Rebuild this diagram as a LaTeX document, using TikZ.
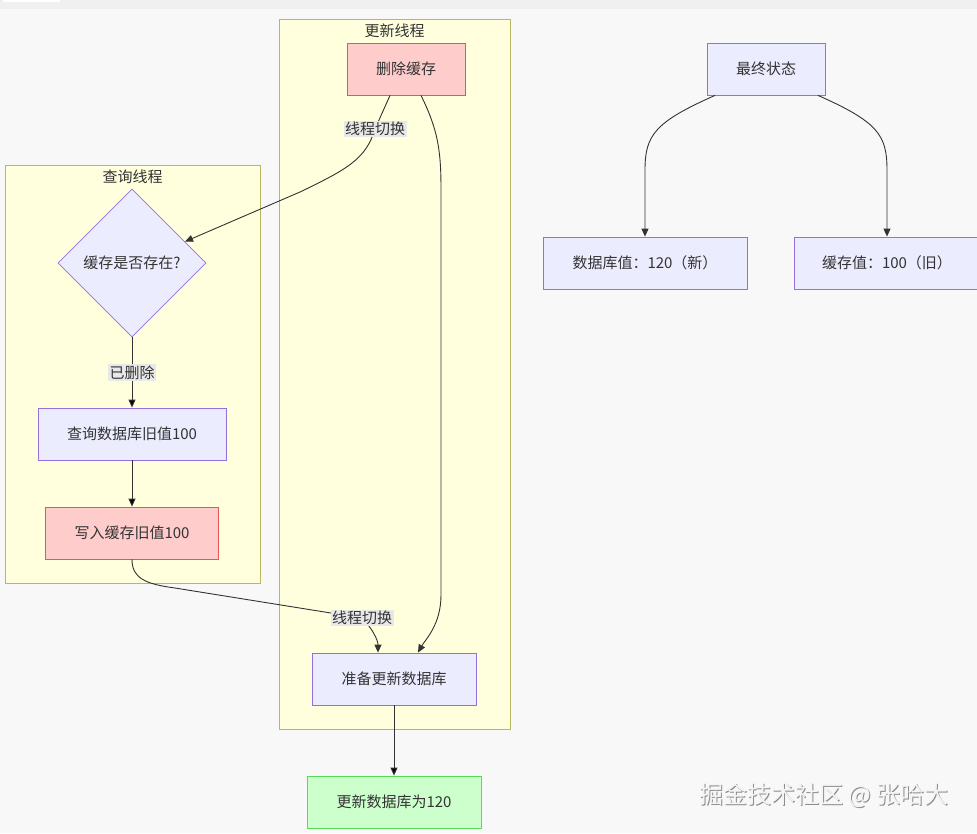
\documentclass[tikz,border=0pt]{standalone}
\usepackage{fontspec}
\setmainfont{Noto Sans CJK SC}
\usetikzlibrary{positioning,shapes.geometric,arrows.meta}
\definecolor{bgcol}{HTML}{F8F8F8}
\definecolor{bandcol}{HTML}{F0F0F0}
\definecolor{clusterfill}{HTML}{FFFFDE}
\definecolor{clusterline}{HTML}{B8B860}
\definecolor{nodefill}{HTML}{ECECFF}
\definecolor{nodeline}{HTML}{9370DB}
\definecolor{redfill}{HTML}{FFCCCC}
\definecolor{redline}{HTML}{E85555}
\definecolor{greenfill}{HTML}{CCFFCC}
\definecolor{greenline}{HTML}{55DD55}
\definecolor{lblfill}{HTML}{E8E8E8}
\definecolor{linegray}{HTML}{333333}
\begin{document}
\begin{tikzpicture}[x=1pt,y=-1pt,font=\fontsize{15}{18}\selectfont,>={Triangle[length=8pt,width=7pt]}]
        \tikzstyle{box}=[rectangle,draw=nodeline,fill=nodefill,text=linegray,line width=0.8pt,minimum width=118,minimum height=52,inner sep=0pt]
        \tikzstyle{warnbox}=[box,draw=redline,fill=redfill]
        \tikzstyle{okbox}=[box,draw=greenline,fill=greenfill]
        \tikzstyle{decide}=[diamond,draw=nodeline,fill=nodefill,text=linegray,line width=0.8pt,minimum width=148,minimum height=148,inner sep=0pt]
        \tikzstyle{cluster}=[rectangle,draw=clusterline,fill=clusterfill,line width=0.8pt,inner sep=0pt]
        \tikzstyle{title}=[text=linegray,inner sep=0pt,anchor=north]
        \tikzstyle{lbl}=[fill=lblfill,text=linegray,inner sep=1.5pt]
        \tikzstyle{edge}=[draw=linegray,line width=0.9pt,->]
        \tikzstyle{stamp}=[font=\fontsize{24}{28}\selectfont,inner sep=0pt]
       \begin{scope}
         \useasboundingbox (0,0) rectangle (977,833);
         \fill[bgcol] (0,0) rectangle (977,833);
         \fill[bandcol] (0,0) rectangle (977,9);
         \fill[white] (3,0) rectangle (60,2);

         \node [cluster,minimum width=231,minimum height=710] (tupd) at (394.5,374) {};
         \node [title,below=5pt of tupd.north] (tupdt) {更新线程};
         \node [cluster,minimum width=255,minimum height=418] (tqry) at (132.5,374) {};
         \node [title,below=5pt of tqry.north] (tqryt) {查询线程};

         \node [warnbox] (del) at (406,69) {删除缓存};
         \node [decide] (q) at (132,263) {缓存是否存在?};
         \node [box,minimum width=188] (look) at (132,434) {查询数据库旧值100};
         \node [warnbox,minimum width=173] (write) at (132,533) {写入缓存旧值100};
         \node [box,minimum width=164] (prep) at (394,679) {准备更新数据库};
         \node [okbox,minimum width=174] (upd) at (394,802) {更新数据库为120};

         \node [box] (fin) at (766,69) {最终状态};
         \node [box,minimum width=204] (db) at (645,263) {数据库值：120（新）};
         \node [box,minimum width=186] (cache) at (887,263) {缓存值：100（旧）};

         \draw[edge] ([xshift=-16]del.south) -- (375,129) node[lbl] {线程切换}
             .. controls (366,158) and (350,168) .. (300,192) -- (q.22);
         \draw[edge] ([xshift=15]del.south) .. controls (438,130) and (441,150) .. (441,190)
             -- (441,595) .. controls (441,625) and (425,640) .. ([xshift=24]prep.north);
         \path[edge] (q) edge node[lbl] {已删除} (look);
         \path[edge] (look) edge (write);
         \draw[edge] (write.south) .. controls (132,578) and (145,584) .. (175,588)
             -- (362,618) node[lbl] {线程切换}
             .. controls (372,628) and (378,640) .. ([xshift=-16]prep.north);
         \path[edge] (prep) edge (upd);

         \draw[edge] ([xshift=-51]fin.south) .. controls (655,122) and (645,135) .. (645,170) -- (db);
         \draw[edge] ([xshift=52]fin.south) .. controls (878,122) and (887,135) .. (887,170) -- (cache);

         \node [stamp,text=black!45] (wmshade) at (825,796) {掘金技术社区 @ 张哈大};
         \node [stamp,text=black!4] (wm) at (824,795) {掘金技术社区 @ 张哈大};
        \end{scope}
      \end{tikzpicture}
\end{document}
